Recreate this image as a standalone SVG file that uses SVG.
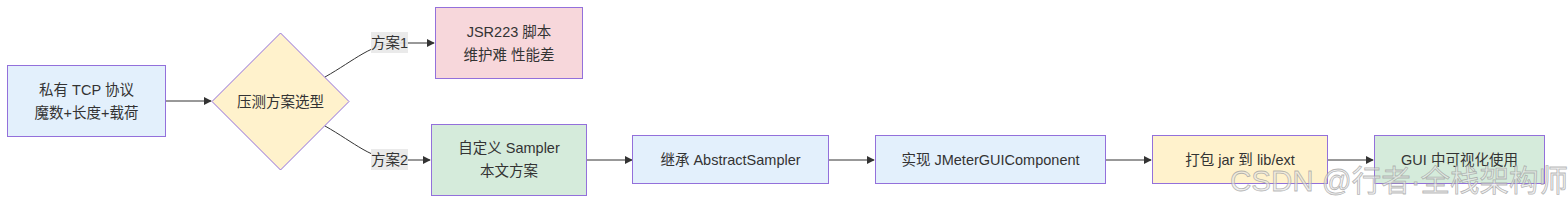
<svg xmlns="http://www.w3.org/2000/svg" width="1568" height="206" viewBox="0 0 1568 206">
<defs>
<style>
.n{stroke:#9370DB;stroke-width:1}
.t{font-family:"Liberation Sans","Noto Sans CJK SC",sans-serif;font-size:14.5px;fill:#333;text-anchor:middle;dominant-baseline:central}
.e{fill:none;stroke:#333;stroke-width:1}
.lb{fill:#e8e8e8;opacity:0.9}
.blue{fill:#e3f0fc}.yel{fill:#fff2cc}.pink{fill:#f7d7db}.green{fill:#d5ebdb}
</style>
<marker id="ah" viewBox="0 0 10 10" refX="9" refY="5" markerWidth="8" markerHeight="8" orient="auto" markerUnits="userSpaceOnUse">
<path d="M0,0 L10,5 L0,10 z" fill="#333"/>
</marker>
</defs>
<rect width="1568" height="206" fill="#fff"/>
<g id="connectors">
<path class="e" d="M166,101 L211,101" marker-end="url(#ah)"/>
<path class="e" d="M325,77 C355,60 372,43 398,43 L434,43" marker-end="url(#ah)"/>
<path class="e" d="M325,126 C355,143 372,160 398,160 L430,160" marker-end="url(#ah)"/>
<path class="e" d="M587,160 L632,160" marker-end="url(#ah)"/>
<path class="e" d="M829,160 L874,160" marker-end="url(#ah)"/>
<path class="e" d="M1106,160 L1151,160" marker-end="url(#ah)"/>
<path class="e" d="M1328,160 L1373,160" marker-end="url(#ah)"/>
<g id="label1"><rect class="lb" x="371" y="32" width="37" height="21"/><text class="t" x="389.5" y="43">方案1</text></g>
<g id="label2"><rect class="lb" x="371" y="149" width="37" height="21"/><text class="t" x="389.5" y="160">方案2</text></g>
</g>
<g id="proto"><rect class="n blue" x="7.5" y="65.5" width="158" height="71"/><text class="t" x="86.5" y="90">私有 TCP 协议</text><text class="t" x="86.5" y="113">魔数+长度+载荷</text></g>
<g id="choice"><polygon class="n yel" points="280.5,33 349,101.5 280.5,170 212,101.5"/><text class="t" x="280.5" y="101.5">压测方案选型</text></g>
<g id="jsr"><rect class="n pink" x="435.5" y="7.5" width="147" height="71"/><text class="t" x="509" y="32">JSR223 脚本</text><text class="t" x="509" y="55">维护难 性能差</text></g>
<g id="sampler"><rect class="n green" x="431.5" y="124.5" width="155" height="71"/><text class="t" x="509" y="148">自定义 Sampler</text><text class="t" x="509" y="171">本文方案</text></g>
<g id="extend"><rect class="n blue" x="632.5" y="135.5" width="196" height="48"/><text class="t" x="730.5" y="160">继承 AbstractSampler</text></g>
<g id="impl"><rect class="n blue" x="875.5" y="135.5" width="230" height="48"/><text class="t" x="990.5" y="160">实现 JMeterGUIComponent</text></g>
<g id="pack"><rect class="n yel" x="1152.5" y="135.5" width="175" height="48"/><text class="t" x="1240" y="160">打包 jar 到 lib/ext</text></g>
<g id="gui"><rect class="n green" x="1374.5" y="135.5" width="170" height="48"/><text class="t" x="1459.5" y="160">GUI 中可视化使用</text></g>
<g id="watermark"><text x="1230" y="191" font-family="Liberation Sans,'Noto Sans CJK SC',sans-serif" font-size="29.5" fill="#e6e6e6" fill-opacity="0.6" stroke="#999" stroke-opacity="0.7" stroke-width="0.8">CSDN @行者·全栈架构师</text></g>
</svg>
